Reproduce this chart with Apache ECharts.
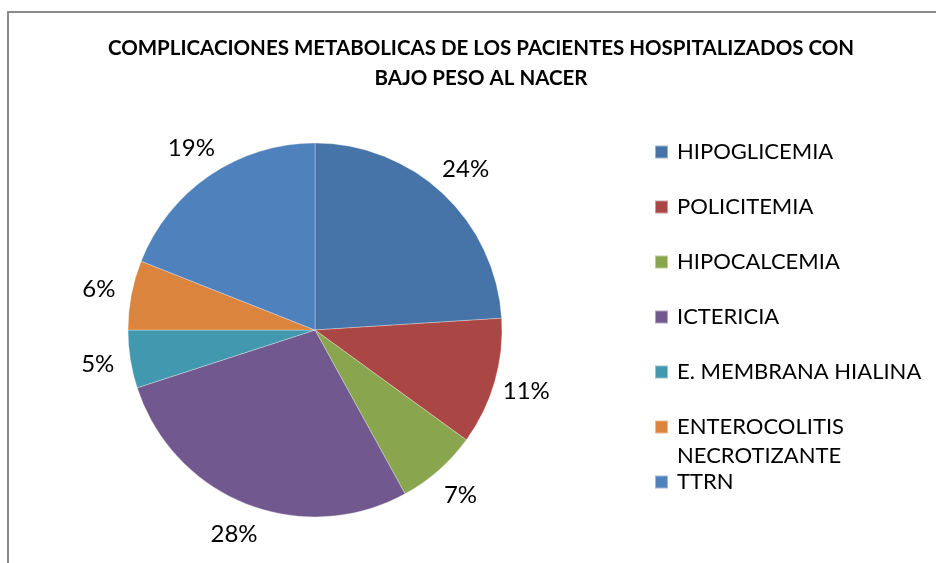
<!DOCTYPE html>
<html>
<head>
<meta charset="utf-8">
<script src="https://cdn.jsdelivr.net/npm/echarts@6/dist/echarts.min.js"></script>
<style>
  html, body { margin: 0; padding: 0; background: #fff; }
  #chart { width: 936px; height: 563px; }
</style>
</head>
<body>
<div id="chart"></div>
<script>
const categories = ['HIPOGLICEMIA', 'POLICITEMIA', 'HIPOCALCEMIA', 'ICTERICIA', 'E. MEMBRANA HIALINA', 'ENTEROCOLITIS NECROTIZANTE', 'TTRN']
const percents = [24, 11, 7, 28, 5, 6, 19]
const colors = ['#4674A8', '#AA4644', '#89A54E', '#71588F', '#4298AF', '#DB843D', '#4F81BD']
const titleText = 'COMPLICACIONES METABOLICAS DE LOS PACIENTES HOSPITALIZADOS CON\nBAJO PESO AL NACER'

const font = 'Lato, "Open Sans", sans-serif'
const center = [315, 330]

const pieData = categories.map((name, i) => ({
  name,
  value: percents[i],
  itemStyle: { color: colors[i] },
}))

const chart = echarts.init(document.getElementById('chart'))

const option = {
  animation: false,
  title: {
    text: titleText,
    left: 476,
    top: 28,
    textAlign: 'center',
    textStyle: {
      fontFamily: font,
      fontWeight: 'bold',
      fontSize: 20.5,
      lineHeight: 30,
      color: '#000',
    },
  },
  legend: {
    orient: 'vertical',
    left: 654,
    top: 140,
    padding: 0,
    itemWidth: 13,
    itemHeight: 13,
    itemGap: 31,
    icon: 'rect',
    data: categories,
    formatter: name => (name === 'ENTEROCOLITIS NECROTIZANTE' ? 'ENTEROCOLITIS' : name),
    textStyle: {
      fontFamily: font,
      fontSize: 22,
      lineHeight: 24,
      color: '#000',
      padding: [0, 0, 0, 4],
    },
  },
  graphic: [
    {
      type: 'rect',
      shape: { x: 8, y: 12, width: 960, height: 600 },
      style: { fill: 'none', stroke: '#8a8a8a', lineWidth: 2 },
      silent: true,
    },
    {
      type: 'text',
      left: 677,
      top: 445,
      style: { text: 'NECROTIZANTE', font: '22px ' + font, fill: '#000' },
      silent: true,
    },
  ],
  series: [
    {
      name: 'Complicaciones',
      type: 'pie',
      center,
      radius: 187,
      startAngle: 90,
      clockwise: true,
      data: pieData,
      label: { show: false },
      labelLine: { show: false },
      itemStyle: { borderColor: 'rgba(255,255,255,0.45)', borderWidth: 0.7 },
      emphasis: { scale: false },
    },
    {
      // transparent ring that only carries the percentage labels
      name: 'Etiquetas',
      type: 'pie',
      center,
      radius: [193, 241],
      startAngle: 90,
      clockwise: true,
      silent: true,
      data: categories.map((name, i) => ({ name, value: percents[i] })),
      itemStyle: { color: 'rgba(0,0,0,0)' },
      label: {
        show: true,
        position: 'inside',
        formatter: p => p.value + '%',
        fontFamily: font,
        fontSize: 24,
        color: '#000',
      },
      labelLine: { show: false },
      emphasis: { disabled: true },
    },
  ],
}

chart.setOption(option)
</script>
</body>
</html>
